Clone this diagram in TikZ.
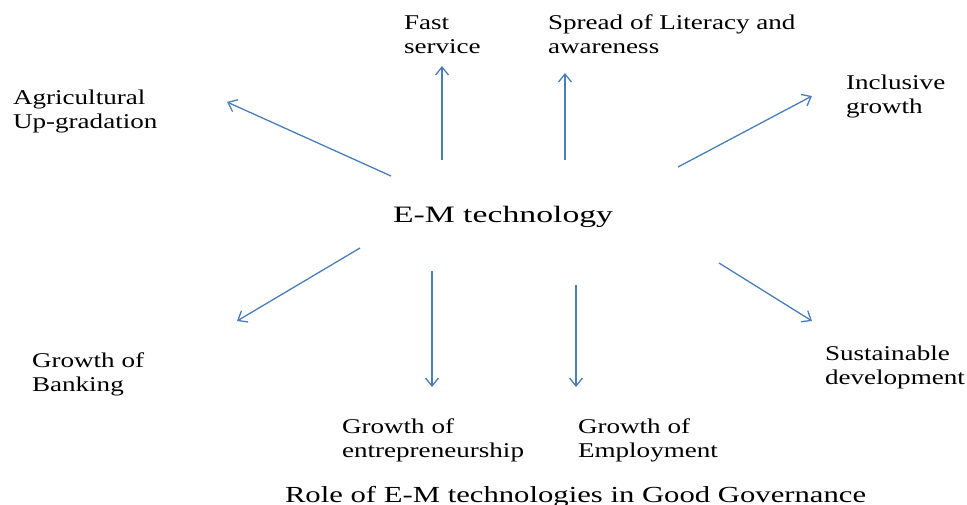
\documentclass[tikz,border=0pt]{standalone}
\usepackage{graphicx}
\usepackage{fontspec}
\setmainfont{Liberation Serif}
\usetikzlibrary{arrows.meta}
\definecolor{arrowblue}{RGB}{74,126,187}
\newcommand{\lbltext}[1]{\scalebox{1.29}[1]{\fontsize{21}{24}\selectfont\begin{tabular}[t]{@{}l@{}}#1\end{tabular}}}
\begin{document}
\begin{tikzpicture}[x=1pt,y=-1pt,
  lbl/.style={anchor=base west, inner sep=0pt, outer sep=0pt},
  arr/.style={draw=arrowblue, line width=1.3pt, -{Straight Barb[length=8pt,width=13pt]}}]
\useasboundingbox (0,0) rectangle (967,504);
% labels
\node[lbl] (agri)   at (13,104)  {\lbltext{Agricultural\\Up-gradation}};
\node[lbl] (fast)   at (404,29)  {\lbltext{Fast\\service}};
\node[lbl] (spread) at (548,29)  {\lbltext{Spread of Literacy and\\awareness}};
\node[lbl] (incl)   at (846,89)  {\lbltext{Inclusive\\growth}};
\node[lbl] (sust)   at (825,360) {\lbltext{Sustainable\\development}};
\node[lbl] (bank)   at (32,367)  {\lbltext{Growth of\\Banking}};
\node[lbl] (entr)   at (342,433) {\lbltext{Growth of\\entrepreneurship}};
\node[lbl] (empl)   at (578,433) {\lbltext{Growth of\\Employment}};
\node[lbl] (center) at (393,222) {\scalebox{1.435}[1]{\fontsize{23.5}{27}\selectfont E-M technology}};
\node[lbl] (title)  at (285,502) {\scalebox{1.334}[1]{\fontsize{23}{27}\selectfont Role of E-M technologies in Good Governance}};
% arrow ends
\coordinate (s1) at (391,176); \coordinate (e1) at (227,102);
\coordinate (s2) at (442,160); \coordinate (e2) at (442,66);
\coordinate (s3) at (565,160); \coordinate (e3) at (565,73);
\coordinate (s4) at (678,167); \coordinate (e4) at (812,96);
\coordinate (s5) at (360,248); \coordinate (e5) at (237,321);
\coordinate (s6) at (432,271); \coordinate (e6) at (432,387);
\coordinate (s7) at (576,285); \coordinate (e7) at (576,387);
\coordinate (s8) at (719,263); \coordinate (e8) at (812,321);
\foreach \i in {1,...,8} { \draw[arr] (s\i) -- (e\i); }
\end{tikzpicture}
\end{document}
